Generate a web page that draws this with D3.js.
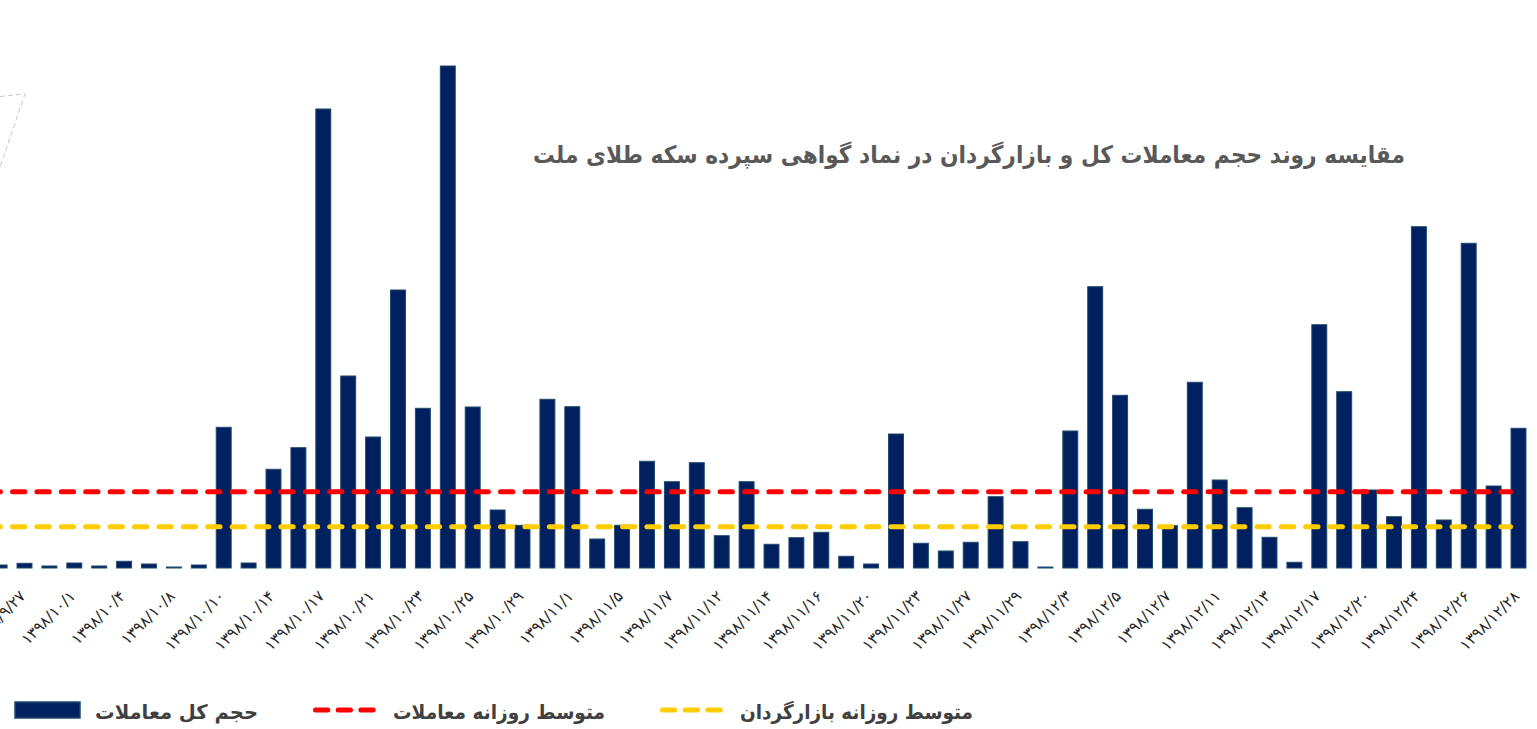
<!DOCTYPE html>
<html>
<head>
<meta charset="utf-8">
<script src="https://cdn.jsdelivr.net/npm/d3@7"></script>
<style>
  html, body { margin: 0; padding: 0; background: #fff; }
  #chart { width: 1537px; height: 729px; }
  text { font-family: "DejaVu Sans", sans-serif; }
</style>
</head>
<body>
<div id="chart"></div>
<script>
// trading days (the first one is cut by the left border of the picture)
var dates = [
  "۱۳۹۸/۹/۲۶", "۱۳۹۸/۹/۲۷", "۱۳۹۸/۹/۳۰", "۱۳۹۸/۱۰/۱", "۱۳۹۸/۱۰/۲", "۱۳۹۸/۱۰/۴",
  "۱۳۹۸/۱۰/۷", "۱۳۹۸/۱۰/۸", "۱۳۹۸/۱۰/۹", "۱۳۹۸/۱۰/۱۰", "۱۳۹۸/۱۰/۱۱", "۱۳۹۸/۱۰/۱۴",
  "۱۳۹۸/۱۰/۱۵", "۱۳۹۸/۱۰/۱۷", "۱۳۹۸/۱۰/۱۸", "۱۳۹۸/۱۰/۲۱", "۱۳۹۸/۱۰/۲۲", "۱۳۹۸/۱۰/۲۳",
  "۱۳۹۸/۱۰/۲۴", "۱۳۹۸/۱۰/۲۵", "۱۳۹۸/۱۰/۲۸", "۱۳۹۸/۱۰/۲۹", "۱۳۹۸/۱۰/۳۰", "۱۳۹۸/۱۱/۱",
  "۱۳۹۸/۱۱/۲", "۱۳۹۸/۱۱/۵", "۱۳۹۸/۱۱/۶", "۱۳۹۸/۱۱/۷", "۱۳۹۸/۱۱/۹", "۱۳۹۸/۱۱/۱۲",
  "۱۳۹۸/۱۱/۱۳", "۱۳۹۸/۱۱/۱۴", "۱۳۹۸/۱۱/۱۵", "۱۳۹۸/۱۱/۱۶", "۱۳۹۸/۱۱/۱۹", "۱۳۹۸/۱۱/۲۰",
  "۱۳۹۸/۱۱/۲۱", "۱۳۹۸/۱۱/۲۳", "۱۳۹۸/۱۱/۲۶", "۱۳۹۸/۱۱/۲۷", "۱۳۹۸/۱۱/۲۸", "۱۳۹۸/۱۱/۲۹",
  "۱۳۹۸/۱۱/۳۰", "۱۳۹۸/۱۲/۳", "۱۳۹۸/۱۲/۴", "۱۳۹۸/۱۲/۵", "۱۳۹۸/۱۲/۶", "۱۳۹۸/۱۲/۷",
  "۱۳۹۸/۱۲/۱۰", "۱۳۹۸/۱۲/۱۱", "۱۳۹۸/۱۲/۱۲", "۱۳۹۸/۱۲/۱۳", "۱۳۹۸/۱۲/۱۴", "۱۳۹۸/۱۲/۱۷",
  "۱۳۹۸/۱۲/۱۸", "۱۳۹۸/۱۲/۲۰", "۱۳۹۸/۱۲/۲۱", "۱۳۹۸/۱۲/۲۴", "۱۳۹۸/۱۲/۲۵", "۱۳۹۸/۱۲/۲۶",
  "۱۳۹۸/۱۲/۲۷", "۱۳۹۸/۱۲/۲۸"
];

// total traded volume per day (relative units)
var volume = [
  3, 4.7, 2, 5, 2, 6.7, 4, 1, 3, 140.7,
  5, 98.7, 120.3, 459, 192, 131, 278, 159.7, 502, 161,
  58, 42.7, 168.7, 161.3, 29, 42.7, 106.7, 86.3, 105.3, 32.3,
  86.3, 23.7, 30.3, 35.7, 11.7, 4, 134, 24.7, 17, 25.7,
  71.3, 26.3, 1, 137, 281.3, 172.7, 58.7, 42.3, 185.7, 88,
  60.3, 30.7, 5.7, 243.3, 176.3, 78, 51.3, 341.3, 48, 324.7,
  82, 139.7
];

// daily averages drawn as dashed lines
var avgTrades = 76.3;
var avgMarketMaker = 41.3;

var title = "مقایسه روند حجم معاملات کل و بازارگردان در نماد گواهی سپرده سکه طلای ملت";
var legendLabels = ["حجم کل معاملات", "متوسط روزانه معاملات", "متوسط روزانه بازارگردان"];

var navy = "#002060";
var navyEdge = "#1d4a6b";
var red = "#ff0000";
var yellow = "#ffcc00";
var textGray = "#404040";

var width = 1537;
var height = 729;

var svg = d3.select("#chart").append("svg")
  .attr("width", width)
  .attr("height", height);

var x = d3.scaleBand()
  .domain(dates)
  .range([-12.85, 1530.95])
  .paddingInner(0.36)
  .paddingOuter(0.18);

var y = d3.scaleLinear()
  .domain([0, 520])
  .range([568, 48]);

// leftover of a dashed frame cut by the picture border
svg.append("path")
  .attr("d", "M0,96.5 L25,94 L0,167")
  .attr("fill", "none")
  .attr("stroke", "#c8c8c8")
  .attr("stroke-width", 1)
  .attr("stroke-dasharray", "5,3");

// bars
svg.append("g")
  .selectAll("rect")
  .data(volume)
  .join("rect")
  .attr("x", function (d, i) { return x(dates[i]) + 0.5; })
  .attr("y", function (d) { return y(d); })
  .attr("width", x.bandwidth() - 1)
  .attr("height", function (d) { return y(0) - y(d); })
  .attr("fill", navy)
  .attr("stroke", navyEdge)
  .attr("stroke-width", 1);

// average lines
var lineEnd = x(dates[dates.length - 1]);
[[avgTrades, red], [avgMarketMaker, yellow]].forEach(function (a) {
  svg.append("line")
    .attr("x1", -36.3)
    .attr("x2", lineEnd)
    .attr("y1", y(a[0]))
    .attr("y2", y(a[0]))
    .attr("stroke", a[1])
    .attr("stroke-width", 5)
    .attr("stroke-linecap", "round")
    .attr("stroke-dasharray", "12.3,12.1");
});

// x axis, every second day labelled
var xAxis = d3.axisBottom(x)
  .tickValues(dates.filter(function (d, i) { return i % 2 === 1; }))
  .tickSize(0)
  .tickPadding(0);

var gx = svg.append("g")
  .attr("transform", "translate(0," + y(0) + ")")
  .call(xAxis);
gx.select(".domain").remove();
gx.selectAll("text")
  .attr("font-family", "DejaVu Sans, sans-serif")
  .attr("font-size", 15.5)
  .attr("fill", "#262626")
  .attr("text-anchor", "end")
  .attr("dy", null)
  .attr("y", 0)
  .attr("transform", "translate(2,29) rotate(-45)");

// title
svg.append("text")
  .attr("x", 969)
  .attr("y", 163)
  .attr("text-anchor", "middle")
  .attr("font-size", 24)
  .attr("font-weight", "bold")
  .attr("fill", "#595959")
  .attr("textLength", 872)
  .attr("lengthAdjust", "spacingAndGlyphs")
  .text(title);

// legend
var legend = svg.append("g");
legend.append("rect")
  .attr("x", 15).attr("y", 702)
  .attr("width", 65).attr("height", 16)
  .attr("fill", navy)
  .attr("stroke", navyEdge)
  .attr("stroke-width", 1.5);

[[red, 315.5], [yellow, 662.5]].forEach(function (l) {
  legend.append("line")
    .attr("x1", l[1]).attr("x2", l[1] + 58)
    .attr("y1", 710).attr("y2", 710)
    .attr("stroke", l[0])
    .attr("stroke-width", 5)
    .attr("stroke-linecap", "round")
    .attr("stroke-dasharray", "12.3,10.4");
});

var legendText = [[95, 163], [393, 212], [740, 233]];
legend.selectAll("text")
  .data(legendLabels)
  .join("text")
  .attr("x", function (d, i) { return legendText[i][0]; })
  .attr("y", 719)
  .attr("font-size", 20)
  .attr("font-weight", "bold")
  .attr("fill", textGray)
  .attr("textLength", function (d, i) { return legendText[i][1]; })
  .attr("lengthAdjust", "spacingAndGlyphs")
  .text(function (d) { return d; });
</script>
</body>
</html>
